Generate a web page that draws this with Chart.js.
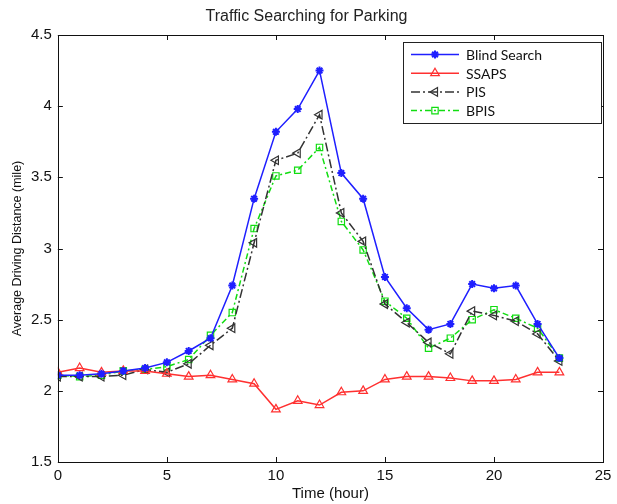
<!DOCTYPE html>
<html><head><meta charset="utf-8">
<script src="https://cdn.jsdelivr.net/npm/chart.js@4/dist/chart.umd.min.js"></script>
<style>html,body{margin:0;padding:0;background:#fff;}canvas{display:block;}</style>
</head><body>
<canvas id="c" width="617" height="504"></canvas>
<script>
const hours = [0,1,2,3,4,5,6,7,8,9,10,11,12,13,14,15,16,17,18,19,20,21,22,23];
const blindSearch = [2.11,2.11,2.12,2.14,2.16,2.20,2.28,2.37,2.74,3.35,3.82,3.98,4.25,3.53,3.35,2.80,2.58,2.43,2.47,2.75,2.72,2.74,2.47,2.23];
const ssaps = [2.13,2.16,2.13,2.14,2.14,2.12,2.10,2.11,2.08,2.05,1.87,1.93,1.90,1.99,2.00,2.08,2.10,2.10,2.09,2.07,2.07,2.08,2.13,2.13];
const pis = [2.10,2.10,2.10,2.11,2.15,2.13,2.19,2.32,2.44,3.04,3.62,3.67,3.94,3.25,3.05,2.61,2.48,2.34,2.26,2.56,2.53,2.49,2.40,2.21];
const bpis = [2.11,2.10,2.11,2.14,2.15,2.17,2.22,2.39,2.55,3.14,3.51,3.55,3.71,3.19,2.99,2.63,2.51,2.30,2.37,2.50,2.57,2.51,2.44,2.23];
const xTicks = [0,5,10,15,20,25];
const yTicks = [1.5,2,2.5,3,3.5,4,4.5];
const seriesNames = ['Blind Search','SSAPS','PIS','BPIS'];

const pts = arr => arr.map((v,i)=>({x:hours[i], y:v}));

const frame = {
  id:'frame',
  afterDraw(chart){
    const {ctx, chartArea:a, scales:{x,y}} = chart;
    ctx.save();
    ctx.strokeStyle='#111'; ctx.lineWidth=1;
    ctx.strokeRect(Math.round(a.left)+0.5, Math.round(a.top)+0.5, Math.round(a.right-a.left), Math.round(a.bottom-a.top));
    ctx.beginPath();
    xTicks.forEach(t=>{const px=Math.round(x.getPixelForValue(t))+0.5;
      ctx.moveTo(px,a.bottom); ctx.lineTo(px,a.bottom-5);
      ctx.moveTo(px,a.top); ctx.lineTo(px,a.top+5);});
    yTicks.forEach(t=>{const py=Math.round(y.getPixelForValue(t))+0.5;
      ctx.moveTo(a.left,py); ctx.lineTo(a.left+5,py);
      ctx.moveTo(a.right,py); ctx.lineTo(a.right-5,py);});
    ctx.stroke();
    // legend
    const bx=Math.round(a.right)-200, by=Math.round(a.top)+7, bw=198, bh=81;
    ctx.fillStyle='#fff'; ctx.fillRect(bx,by,bw,bh);
    ctx.strokeStyle='#222'; ctx.strokeRect(bx+0.5,by+0.5,bw,bh);
    chart.data.datasets.forEach((ds,i)=>{
      const ry = by+12.5+i*18.7;
      const x0=bx+8, x1=bx+56;
      ctx.save();
      ctx.strokeStyle=ds.borderColor; ctx.lineWidth=ds.borderWidth;
      ctx.setLineDash(ds.borderDash||[]);
      ctx.beginPath(); ctx.moveTo(x0,ry); ctx.lineTo(x1,ry); ctx.stroke();
      ctx.setLineDash([]);
      ctx.strokeStyle=ds.pointBorderColor; ctx.fillStyle=ds.pointBackgroundColor; ctx.lineWidth=ds.pointBorderWidth||1;
      Chart.helpers.drawPoint(ctx,{pointStyle:ds.pointStyle, radius:ds.pointRadius, rotation:ds.pointRotation||0, borderWidth:ds.pointBorderWidth||1}, (x0+x1)/2, ry);
      ctx.restore();
      ctx.fillStyle='#111'; ctx.font='14px Lato'; ctx.textBaseline='middle';
      ctx.fillText(seriesNames[i], bx+63, ry+1);
    });
    ctx.restore();
  }
};

new Chart(document.getElementById('c'),{
  type:'line',
  data:{datasets:[
    {label:seriesNames[0], data:pts(blindSearch), borderColor:'#1f1fff', backgroundColor:'#1f1fff', borderWidth:1.5,
      pointStyle:'star', pointRadius:4, pointBorderColor:'#1f1fff', pointBorderWidth:2, pointBackgroundColor:'#1f1fff'},
    {label:seriesNames[1], data:pts(ssaps), borderColor:'#ff3030', backgroundColor:'rgba(0,0,0,0)', borderWidth:1.5,
      pointStyle:'triangle', pointRadius:5, pointBorderColor:'#ff3030', pointBackgroundColor:'rgba(0,0,0,0)', pointBorderWidth:1.2},
    {label:seriesNames[2], data:pts(pis), borderColor:'#333', backgroundColor:'rgba(0,0,0,0)', borderWidth:1.5, borderDash:[9,3,2,3],
      pointStyle:'triangle', pointRotation:-90, pointRadius:5, pointBorderColor:'#333', pointBackgroundColor:'rgba(0,0,0,0)', pointBorderWidth:1.2},
    {label:seriesNames[3], data:pts(bpis), borderColor:'#11dd11', backgroundColor:'rgba(0,0,0,0)', borderWidth:1.5, borderDash:[6,3,2,3],
      pointStyle:'rect', pointRadius:4.5, pointBorderColor:'#11dd11', pointBackgroundColor:'rgba(0,0,0,0)', pointBorderWidth:1.2}
  ]},
  options:{
    responsive:false, animation:false, devicePixelRatio:1,
    layout:{padding:{left:10,right:14,top:0,bottom:1}},
    plugins:{
      legend:{display:false}, tooltip:{enabled:false},
      title:{display:true, text:'Traffic Searching for Parking', color:'#222', font:{family:'Liberation Sans', size:16, weight:'normal'}, padding:{top:7.4,bottom:8.4}}
    },
    scales:{
      x:{type:'linear', min:0, max:25,
        afterBuildTicks:s=>{s.ticks=xTicks.map(v=>({value:v}));},
        ticks:{color:'#111', font:{family:'Liberation Sans', size:15}, padding:5, maxRotation:0, callback:v=>String(v)},
        grid:{display:false, drawTicks:false}, border:{display:false},
        title:{display:true, text:'Time (hour)', color:'#111', font:{family:'Liberation Sans', size:15}, padding:{top:-5,bottom:0}}},
      y:{type:'linear', min:1.5, max:4.5,
        afterBuildTicks:s=>{s.ticks=yTicks.map(v=>({value:v}));},
        ticks:{color:'#111', font:{family:'Liberation Sans', size:15}, padding:6, callback:v=>String(v)},
        grid:{display:false, drawTicks:false}, border:{display:false},
        title:{display:true, text:'Average Driving Distance (mile)', color:'#111', font:{family:'Liberation Sans', size:12.5}, padding:{top:0,bottom:0}}}
    }
  },
  plugins:[frame]
});
</script>
</body></html>
